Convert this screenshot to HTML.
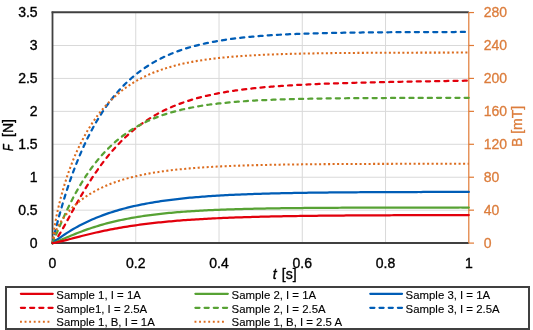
<!DOCTYPE html>
<html><head><meta charset="utf-8"><style>
html,body{margin:0;padding:0;background:#fff;}
body{width:533px;height:330px;overflow:hidden;font-family:"Liberation Sans",sans-serif;}
svg{display:block;will-change:transform;}
</style></head><body>
<svg width="533" height="330" viewBox="0 0 533 330">
<rect width="533" height="330" fill="#fff"/>
<line x1="52.5" x2="468.8" y1="210.16" y2="210.16" stroke="#d9d9d9" stroke-width="1"/>
<line x1="52.5" x2="468.8" y1="177.23" y2="177.23" stroke="#d9d9d9" stroke-width="1"/>
<line x1="52.5" x2="468.8" y1="144.29" y2="144.29" stroke="#d9d9d9" stroke-width="1"/>
<line x1="52.5" x2="468.8" y1="111.36" y2="111.36" stroke="#d9d9d9" stroke-width="1"/>
<line x1="52.5" x2="468.8" y1="78.42" y2="78.42" stroke="#d9d9d9" stroke-width="1"/>
<line x1="52.5" x2="468.8" y1="45.49" y2="45.49" stroke="#d9d9d9" stroke-width="1"/>
<line x1="135.76" x2="135.76" y1="12.55" y2="243.10" stroke="#d9d9d9" stroke-width="1"/>
<line x1="219.02" x2="219.02" y1="12.55" y2="243.10" stroke="#d9d9d9" stroke-width="1"/>
<line x1="302.28" x2="302.28" y1="12.55" y2="243.10" stroke="#d9d9d9" stroke-width="1"/>
<line x1="385.54" x2="385.54" y1="12.55" y2="243.10" stroke="#d9d9d9" stroke-width="1"/>
<line x1="52.5" x2="52.5" y1="11.55" y2="244.10" stroke="#404040" stroke-width="1.8"/>
<line x1="51.6" x2="468.8" y1="12.3" y2="12.3" stroke="#404040" stroke-width="2"/>
<line x1="51.6" x2="468.8" y1="243" y2="243" stroke="#404040" stroke-width="2"/>
<line x1="468.8" x2="468.8" y1="12.55" y2="243.10" stroke="#e07a35" stroke-width="1.2"/>
<line x1="468.8" x2="474" y1="243.10" y2="243.10" stroke="#e07a35" stroke-width="1.2"/>
<line x1="468.8" x2="474" y1="210.16" y2="210.16" stroke="#e07a35" stroke-width="1.2"/>
<line x1="468.8" x2="474" y1="177.23" y2="177.23" stroke="#e07a35" stroke-width="1.2"/>
<line x1="468.8" x2="474" y1="144.29" y2="144.29" stroke="#e07a35" stroke-width="1.2"/>
<line x1="468.8" x2="474" y1="111.36" y2="111.36" stroke="#e07a35" stroke-width="1.2"/>
<line x1="468.8" x2="474" y1="78.42" y2="78.42" stroke="#e07a35" stroke-width="1.2"/>
<line x1="468.8" x2="474" y1="45.49" y2="45.49" stroke="#e07a35" stroke-width="1.2"/>
<line x1="468.8" x2="474" y1="12.55" y2="12.55" stroke="#e07a35" stroke-width="1.2"/>
<path d="M52.50,243.10 L54.58,233.87 L56.66,225.48 L58.74,217.57 L60.83,210.06 L62.91,202.91 L64.99,196.08 L67.07,189.55 L69.15,183.31 L71.23,177.33 L73.31,171.60 L75.40,166.11 L77.48,160.84 L79.56,155.79 L81.64,150.95 L83.72,146.30 L85.80,141.84 L87.89,137.55 L89.97,133.44 L92.05,129.49 L94.13,125.70 L96.21,122.06 L98.29,118.56 L100.37,115.20 L102.46,111.97 L104.54,108.87 L106.62,105.89 L108.70,103.03 L110.78,100.28 L112.86,97.64 L114.94,95.10 L117.03,92.66 L119.11,90.31 L121.19,88.06 L123.27,85.89 L125.35,83.81 L127.43,81.80 L129.52,79.88 L131.60,78.03 L133.68,76.25 L135.76,74.55 L137.84,72.90 L139.92,71.32 L142.00,69.81 L144.09,68.35 L146.17,66.94 L148.25,65.60 L150.33,64.30 L152.41,63.05 L154.49,61.85 L156.57,60.70 L158.66,59.59 L160.74,58.53 L162.82,57.51 L164.90,56.52 L166.98,55.58 L169.06,54.67 L171.15,53.79 L173.23,52.95 L175.31,52.14 L177.39,51.36 L179.47,50.61 L181.55,49.90 L183.63,49.20 L185.72,48.54 L187.80,47.90 L189.88,47.29 L191.96,46.69 L194.04,46.13 L196.12,45.58 L198.20,45.05 L200.29,44.55 L202.37,44.06 L204.45,43.60 L206.53,43.15 L208.61,42.72 L210.69,42.30 L212.78,41.90 L214.86,41.52 L216.94,41.15 L219.02,40.79 L221.10,40.45 L223.18,40.12 L225.26,39.81 L227.35,39.50 L229.43,39.21 L231.51,38.93 L233.59,38.66 L235.67,38.40 L237.75,38.15 L239.84,37.91 L241.92,37.68 L244.00,37.46 L246.08,37.24 L248.16,37.04 L250.24,36.84 L252.32,36.65 L254.41,36.47 L256.49,36.29 L258.57,36.12 L260.65,35.96 L262.73,35.81 L264.81,35.66 L266.89,35.51 L268.98,35.37 L271.06,35.24 L273.14,35.11 L275.22,34.99 L277.30,34.87 L279.38,34.75 L281.47,34.64 L283.55,34.54 L285.63,34.44 L287.71,34.34 L289.79,34.24 L291.87,34.15 L293.95,34.07 L296.04,33.98 L298.12,33.90 L300.20,33.83 L302.28,33.75 L304.36,33.68 L306.44,33.61 L308.52,33.55 L310.61,33.48 L312.69,33.42 L314.77,33.36 L316.85,33.31 L318.93,33.25 L321.01,33.20 L323.10,33.15 L325.18,33.10 L327.26,33.05 L329.34,33.01 L331.42,32.97 L333.50,32.93 L335.58,32.89 L337.67,32.85 L339.75,32.81 L341.83,32.78 L343.91,32.74 L345.99,32.71 L348.07,32.68 L350.15,32.65 L352.24,32.62 L354.32,32.59 L356.40,32.56 L358.48,32.54 L360.56,32.51 L362.64,32.49 L364.73,32.47 L366.81,32.44 L368.89,32.42 L370.97,32.40 L373.05,32.38 L375.13,32.36 L377.21,32.34 L379.30,32.33 L381.38,32.31 L383.46,32.29 L385.54,32.28 L387.62,32.26 L389.70,32.25 L391.78,32.24 L393.87,32.22 L395.95,32.21 L398.03,32.20 L400.11,32.19 L402.19,32.17 L404.27,32.16 L406.36,32.15 L408.44,32.14 L410.52,32.13 L412.60,32.12 L414.68,32.11 L416.76,32.11 L418.84,32.10 L420.93,32.09 L423.01,32.08 L425.09,32.07 L427.17,32.07 L429.25,32.06 L431.33,32.05 L433.41,32.05 L435.50,32.04 L437.58,32.04 L439.66,32.03 L441.74,32.02 L443.82,32.02 L445.90,32.01 L447.99,32.01 L450.07,32.00 L452.15,32.00 L454.23,32.00 L456.31,31.99 L458.39,31.99 L460.47,31.98 L462.56,31.98 L464.64,31.98 L466.72,31.97 L468.80,31.97" stroke="#005db6" stroke-width="2.25" fill="none" stroke-linecap="round" stroke-dasharray="4.1 5.1"/>
<path d="M52.50,243.10 L54.58,226.43 L56.66,215.33 L58.74,205.92 L60.83,197.56 L62.91,189.97 L64.99,183.00 L67.07,176.55 L69.15,170.54 L71.23,164.92 L73.31,159.64 L75.40,154.67 L77.48,149.99 L79.56,145.56 L81.64,141.37 L83.72,137.41 L85.80,133.64 L87.89,130.06 L89.97,126.67 L92.05,123.43 L94.13,120.36 L96.21,117.43 L98.29,114.64 L100.37,111.97 L102.46,109.44 L104.54,107.01 L106.62,104.70 L108.70,102.49 L110.78,100.39 L112.86,98.37 L114.94,96.45 L117.03,94.61 L119.11,92.85 L121.19,91.17 L123.27,89.56 L125.35,88.02 L127.43,86.54 L129.52,85.13 L131.60,83.79 L133.68,82.49 L135.76,81.26 L137.84,80.07 L139.92,78.94 L142.00,77.85 L144.09,76.81 L146.17,75.82 L148.25,74.86 L150.33,73.95 L152.41,73.07 L154.49,72.23 L156.57,71.43 L158.66,70.65 L160.74,69.91 L162.82,69.21 L164.90,68.53 L166.98,67.88 L169.06,67.25 L171.15,66.65 L173.23,66.08 L175.31,65.53 L177.39,65.00 L179.47,64.49 L181.55,64.01 L183.63,63.54 L185.72,63.10 L187.80,62.67 L189.88,62.26 L191.96,61.87 L194.04,61.49 L196.12,61.13 L198.20,60.78 L200.29,60.44 L202.37,60.12 L204.45,59.82 L206.53,59.52 L208.61,59.24 L210.69,58.97 L212.78,58.71 L214.86,58.46 L216.94,58.22 L219.02,57.99 L221.10,57.77 L223.18,57.56 L225.26,57.36 L227.35,57.16 L229.43,56.98 L231.51,56.80 L233.59,56.63 L235.67,56.46 L237.75,56.30 L239.84,56.15 L241.92,56.01 L244.00,55.87 L246.08,55.73 L248.16,55.60 L250.24,55.48 L252.32,55.36 L254.41,55.25 L256.49,55.14 L258.57,55.03 L260.65,54.93 L262.73,54.84 L264.81,54.74 L266.89,54.66 L268.98,54.57 L271.06,54.49 L273.14,54.41 L275.22,54.34 L277.30,54.26 L279.38,54.19 L281.47,54.13 L283.55,54.06 L285.63,54.00 L287.71,53.94 L289.79,53.89 L291.87,53.83 L293.95,53.78 L296.04,53.73 L298.12,53.68 L300.20,53.64 L302.28,53.59 L304.36,53.55 L306.44,53.51 L308.52,53.47 L310.61,53.43 L312.69,53.40 L314.77,53.36 L316.85,53.33 L318.93,53.30 L321.01,53.27 L323.10,53.24 L325.18,53.21 L327.26,53.18 L329.34,53.16 L331.42,53.13 L333.50,53.11 L335.58,53.08 L337.67,53.06 L339.75,53.04 L341.83,53.02 L343.91,53.00 L345.99,52.98 L348.07,52.97 L350.15,52.95 L352.24,52.93 L354.32,52.92 L356.40,52.90 L358.48,52.89 L360.56,52.87 L362.64,52.86 L364.73,52.85 L366.81,52.83 L368.89,52.82 L370.97,52.81 L373.05,52.80 L375.13,52.79 L377.21,52.78 L379.30,52.77 L381.38,52.76 L383.46,52.75 L385.54,52.74 L387.62,52.73 L389.70,52.73 L391.78,52.72 L393.87,52.71 L395.95,52.70 L398.03,52.70 L400.11,52.69 L402.19,52.69 L404.27,52.68 L406.36,52.67 L408.44,52.67 L410.52,52.66 L412.60,52.66 L414.68,52.65 L416.76,52.65 L418.84,52.64 L420.93,52.64 L423.01,52.64 L425.09,52.63 L427.17,52.63 L429.25,52.62 L431.33,52.62 L433.41,52.62 L435.50,52.61 L437.58,52.61 L439.66,52.61 L441.74,52.61 L443.82,52.60 L445.90,52.60 L447.99,52.60 L450.07,52.60 L452.15,52.59 L454.23,52.59 L456.31,52.59 L458.39,52.59 L460.47,52.58 L462.56,52.58 L464.64,52.58 L466.72,52.58 L468.80,52.58" stroke="#dc6c1e" stroke-width="2.05" fill="none" stroke-dasharray="2.05 2.45"/>
<path d="M52.50,243.10 L54.58,241.31 L56.66,238.59 L58.74,235.44 L60.83,232.01 L62.91,228.42 L64.99,224.72 L67.07,220.96 L69.15,217.17 L71.23,213.37 L73.31,209.59 L75.40,205.84 L77.48,202.13 L79.56,198.47 L81.64,194.88 L83.72,191.35 L85.80,187.89 L87.89,184.51 L89.97,181.21 L92.05,177.98 L94.13,174.84 L96.21,171.78 L98.29,168.80 L100.37,165.90 L102.46,163.09 L104.54,160.36 L106.62,157.70 L108.70,155.13 L110.78,152.64 L112.86,150.22 L114.94,147.88 L117.03,145.61 L119.11,143.41 L121.19,141.29 L123.27,139.24 L125.35,137.25 L127.43,135.33 L129.52,133.47 L131.60,131.67 L133.68,129.94 L135.76,128.26 L137.84,126.64 L139.92,125.08 L142.00,123.57 L144.09,122.11 L146.17,120.70 L148.25,119.34 L150.33,118.03 L152.41,116.77 L154.49,115.55 L156.57,114.37 L158.66,113.23 L160.74,112.13 L162.82,111.08 L164.90,110.06 L166.98,109.07 L169.06,108.12 L171.15,107.21 L173.23,106.32 L175.31,105.47 L177.39,104.65 L179.47,103.86 L181.55,103.10 L183.63,102.36 L185.72,101.65 L187.80,100.97 L189.88,100.31 L191.96,99.67 L194.04,99.06 L196.12,98.46 L198.20,97.89 L200.29,97.34 L202.37,96.81 L204.45,96.30 L206.53,95.81 L208.61,95.33 L210.69,94.87 L212.78,94.43 L214.86,94.00 L216.94,93.59 L219.02,93.19 L221.10,92.81 L223.18,92.44 L225.26,92.08 L227.35,91.73 L229.43,91.40 L231.51,91.08 L233.59,90.77 L235.67,90.47 L237.75,90.18 L239.84,89.90 L241.92,89.63 L244.00,89.37 L246.08,89.12 L248.16,88.88 L250.24,88.64 L252.32,88.42 L254.41,88.20 L256.49,87.98 L258.57,87.78 L260.65,87.58 L262.73,87.39 L264.81,87.20 L266.89,87.03 L268.98,86.85 L271.06,86.68 L273.14,86.52 L275.22,86.36 L277.30,86.21 L279.38,86.06 L281.47,85.92 L283.55,85.78 L285.63,85.65 L287.71,85.52 L289.79,85.39 L291.87,85.27 L293.95,85.15 L296.04,85.04 L298.12,84.92 L300.20,84.82 L302.28,84.71 L304.36,84.61 L306.44,84.51 L308.52,84.41 L310.61,84.32 L312.69,84.23 L314.77,84.14 L316.85,84.05 L318.93,83.97 L321.01,83.88 L323.10,83.80 L325.18,83.73 L327.26,83.65 L329.34,83.58 L331.42,83.50 L333.50,83.43 L335.58,83.36 L337.67,83.30 L339.75,83.23 L341.83,83.17 L343.91,83.10 L345.99,83.04 L348.07,82.98 L350.15,82.92 L352.24,82.87 L354.32,82.81 L356.40,82.75 L358.48,82.70 L360.56,82.65 L362.64,82.59 L364.73,82.54 L366.81,82.49 L368.89,82.44 L370.97,82.39 L373.05,82.35 L375.13,82.30 L377.21,82.25 L379.30,82.21 L381.38,82.16 L383.46,82.12 L385.54,82.08 L387.62,82.03 L389.70,81.99 L391.78,81.95 L393.87,81.91 L395.95,81.87 L398.03,81.83 L400.11,81.79 L402.19,81.75 L404.27,81.71 L406.36,81.67 L408.44,81.64 L410.52,81.60 L412.60,81.56 L414.68,81.53 L416.76,81.49 L418.84,81.45 L420.93,81.42 L423.01,81.38 L425.09,81.35 L427.17,81.32 L429.25,81.28 L431.33,81.25 L433.41,81.21 L435.50,81.18 L437.58,81.15 L439.66,81.11 L441.74,81.08 L443.82,81.05 L445.90,81.02 L447.99,80.99 L450.07,80.95 L452.15,80.92 L454.23,80.89 L456.31,80.86 L458.39,80.83 L460.47,80.80 L462.56,80.77 L464.64,80.74 L466.72,80.71 L468.80,80.68" stroke="#e2000c" stroke-width="2.25" fill="none" stroke-linecap="round" stroke-dasharray="4.1 5.1"/>
<path d="M52.50,243.10 L54.58,238.39 L56.66,233.43 L58.74,228.50 L60.83,223.66 L62.91,218.95 L64.99,214.36 L67.07,209.92 L69.15,205.62 L71.23,201.46 L73.31,197.45 L75.40,193.57 L77.48,189.84 L79.56,186.24 L81.64,182.77 L83.72,179.43 L85.80,176.21 L87.89,173.12 L89.97,170.14 L92.05,167.28 L94.13,164.52 L96.21,161.87 L98.29,159.33 L100.37,156.88 L102.46,154.52 L104.54,152.26 L106.62,150.09 L108.70,148.00 L110.78,145.99 L112.86,144.07 L114.94,142.21 L117.03,140.43 L119.11,138.72 L121.19,137.08 L123.27,135.51 L125.35,133.99 L127.43,132.54 L129.52,131.14 L131.60,129.80 L133.68,128.52 L135.76,127.28 L137.84,126.09 L139.92,124.95 L142.00,123.86 L144.09,122.81 L146.17,121.80 L148.25,120.83 L150.33,119.91 L152.41,119.01 L154.49,118.16 L156.57,117.34 L158.66,116.55 L160.74,115.79 L162.82,115.06 L164.90,114.37 L166.98,113.70 L169.06,113.06 L171.15,112.44 L173.23,111.85 L175.31,111.28 L177.39,110.74 L179.47,110.21 L181.55,109.71 L183.63,109.23 L185.72,108.77 L187.80,108.32 L189.88,107.90 L191.96,107.49 L194.04,107.10 L196.12,106.72 L198.20,106.36 L200.29,106.01 L202.37,105.68 L204.45,105.36 L206.53,105.05 L208.61,104.76 L210.69,104.48 L212.78,104.21 L214.86,103.95 L216.94,103.70 L219.02,103.46 L221.10,103.23 L223.18,103.01 L225.26,102.80 L227.35,102.60 L229.43,102.40 L231.51,102.22 L233.59,102.04 L235.67,101.87 L237.75,101.70 L239.84,101.54 L241.92,101.39 L244.00,101.25 L246.08,101.11 L248.16,100.97 L250.24,100.84 L252.32,100.72 L254.41,100.60 L256.49,100.49 L258.57,100.38 L260.65,100.27 L262.73,100.17 L264.81,100.08 L266.89,99.99 L268.98,99.90 L271.06,99.81 L273.14,99.73 L275.22,99.65 L277.30,99.58 L279.38,99.50 L281.47,99.43 L283.55,99.37 L285.63,99.30 L287.71,99.24 L289.79,99.19 L291.87,99.13 L293.95,99.07 L296.04,99.02 L298.12,98.97 L300.20,98.93 L302.28,98.88 L304.36,98.84 L306.44,98.79 L308.52,98.75 L310.61,98.71 L312.69,98.68 L314.77,98.64 L316.85,98.61 L318.93,98.57 L321.01,98.54 L323.10,98.51 L325.18,98.48 L327.26,98.46 L329.34,98.43 L331.42,98.40 L333.50,98.38 L335.58,98.36 L337.67,98.33 L339.75,98.31 L341.83,98.29 L343.91,98.27 L345.99,98.25 L348.07,98.23 L350.15,98.22 L352.24,98.20 L354.32,98.18 L356.40,98.17 L358.48,98.15 L360.56,98.14 L362.64,98.12 L364.73,98.11 L366.81,98.10 L368.89,98.09 L370.97,98.07 L373.05,98.06 L375.13,98.05 L377.21,98.04 L379.30,98.03 L381.38,98.02 L383.46,98.01 L385.54,98.00 L387.62,98.00 L389.70,97.99 L391.78,97.98 L393.87,97.97 L395.95,97.97 L398.03,97.96 L400.11,97.95 L402.19,97.95 L404.27,97.94 L406.36,97.93 L408.44,97.93 L410.52,97.92 L412.60,97.92 L414.68,97.91 L416.76,97.91 L418.84,97.90 L420.93,97.90 L423.01,97.90 L425.09,97.89 L427.17,97.89 L429.25,97.88 L431.33,97.88 L433.41,97.88 L435.50,97.87 L437.58,97.87 L439.66,97.87 L441.74,97.86 L443.82,97.86 L445.90,97.86 L447.99,97.86 L450.07,97.85 L452.15,97.85 L454.23,97.85 L456.31,97.85 L458.39,97.85 L460.47,97.84 L462.56,97.84 L464.64,97.84 L466.72,97.84 L468.80,97.84" stroke="#57a234" stroke-width="2.25" fill="none" stroke-linecap="round" stroke-dasharray="4.1 5.1"/>
<path d="M52.50,243.10 L54.58,234.35 L56.66,229.40 L58.74,225.37 L60.83,221.89 L62.91,218.79 L64.99,215.98 L67.07,213.41 L69.15,211.03 L71.23,208.81 L73.31,206.75 L75.40,204.81 L77.48,202.99 L79.56,201.28 L81.64,199.66 L83.72,198.12 L85.80,196.67 L87.89,195.29 L89.97,193.98 L92.05,192.73 L94.13,191.55 L96.21,190.42 L98.29,189.34 L100.37,188.31 L102.46,187.33 L104.54,186.39 L106.62,185.49 L108.70,184.63 L110.78,183.81 L112.86,183.03 L114.94,182.28 L117.03,181.55 L119.11,180.86 L121.19,180.20 L123.27,179.57 L125.35,178.96 L127.43,178.38 L129.52,177.82 L131.60,177.28 L133.68,176.76 L135.76,176.27 L137.84,175.79 L139.92,175.34 L142.00,174.90 L144.09,174.48 L146.17,174.07 L148.25,173.68 L150.33,173.31 L152.41,172.95 L154.49,172.60 L156.57,172.27 L158.66,171.95 L160.74,171.65 L162.82,171.35 L164.90,171.07 L166.98,170.79 L169.06,170.53 L171.15,170.28 L173.23,170.03 L175.31,169.80 L177.39,169.58 L179.47,169.36 L181.55,169.15 L183.63,168.95 L185.72,168.76 L187.80,168.57 L189.88,168.39 L191.96,168.22 L194.04,168.06 L196.12,167.90 L198.20,167.74 L200.29,167.59 L202.37,167.45 L204.45,167.31 L206.53,167.18 L208.61,167.06 L210.69,166.93 L212.78,166.82 L214.86,166.70 L216.94,166.59 L219.02,166.49 L221.10,166.39 L223.18,166.29 L225.26,166.20 L227.35,166.10 L229.43,166.02 L231.51,165.93 L233.59,165.85 L235.67,165.77 L237.75,165.70 L239.84,165.63 L241.92,165.56 L244.00,165.49 L246.08,165.43 L248.16,165.36 L250.24,165.30 L252.32,165.25 L254.41,165.19 L256.49,165.14 L258.57,165.09 L260.65,165.04 L262.73,164.99 L264.81,164.94 L266.89,164.90 L268.98,164.85 L271.06,164.81 L273.14,164.77 L275.22,164.73 L277.30,164.70 L279.38,164.66 L281.47,164.63 L283.55,164.60 L285.63,164.56 L287.71,164.53 L289.79,164.50 L291.87,164.47 L293.95,164.45 L296.04,164.42 L298.12,164.40 L300.20,164.37 L302.28,164.35 L304.36,164.32 L306.44,164.30 L308.52,164.28 L310.61,164.26 L312.69,164.24 L314.77,164.22 L316.85,164.20 L318.93,164.19 L321.01,164.17 L323.10,164.15 L325.18,164.14 L327.26,164.12 L329.34,164.11 L331.42,164.09 L333.50,164.08 L335.58,164.07 L337.67,164.05 L339.75,164.04 L341.83,164.03 L343.91,164.02 L345.99,164.01 L348.07,164.00 L350.15,163.99 L352.24,163.98 L354.32,163.97 L356.40,163.96 L358.48,163.95 L360.56,163.94 L362.64,163.93 L364.73,163.93 L366.81,163.92 L368.89,163.91 L370.97,163.91 L373.05,163.90 L375.13,163.89 L377.21,163.89 L379.30,163.88 L381.38,163.87 L383.46,163.87 L385.54,163.86 L387.62,163.86 L389.70,163.85 L391.78,163.85 L393.87,163.84 L395.95,163.84 L398.03,163.83 L400.11,163.83 L402.19,163.83 L404.27,163.82 L406.36,163.82 L408.44,163.82 L410.52,163.81 L412.60,163.81 L414.68,163.81 L416.76,163.80 L418.84,163.80 L420.93,163.80 L423.01,163.79 L425.09,163.79 L427.17,163.79 L429.25,163.79 L431.33,163.78 L433.41,163.78 L435.50,163.78 L437.58,163.78 L439.66,163.78 L441.74,163.77 L443.82,163.77 L445.90,163.77 L447.99,163.77 L450.07,163.77 L452.15,163.76 L454.23,163.76 L456.31,163.76 L458.39,163.76 L460.47,163.76 L462.56,163.76 L464.64,163.76 L466.72,163.75 L468.80,163.75" stroke="#dc6c1e" stroke-width="2.05" fill="none" stroke-dasharray="2.05 2.45"/>
<path d="M52.50,243.10 L54.58,241.56 L56.66,240.02 L58.74,238.52 L60.83,237.05 L62.91,235.62 L64.99,234.23 L67.07,232.88 L69.15,231.58 L71.23,230.31 L73.31,229.08 L75.40,227.89 L77.48,226.73 L79.56,225.61 L81.64,224.53 L83.72,223.48 L85.80,222.46 L87.89,221.47 L89.97,220.52 L92.05,219.59 L94.13,218.70 L96.21,217.83 L98.29,216.99 L100.37,216.18 L102.46,215.40 L104.54,214.63 L106.62,213.90 L108.70,213.18 L110.78,212.49 L112.86,211.83 L114.94,211.18 L117.03,210.55 L119.11,209.95 L121.19,209.36 L123.27,208.79 L125.35,208.24 L127.43,207.71 L129.52,207.20 L131.60,206.70 L133.68,206.22 L135.76,205.75 L137.84,205.30 L139.92,204.86 L142.00,204.44 L144.09,204.03 L146.17,203.64 L148.25,203.25 L150.33,202.88 L152.41,202.53 L154.49,202.18 L156.57,201.84 L158.66,201.52 L160.74,201.21 L162.82,200.90 L164.90,200.61 L166.98,200.32 L169.06,200.05 L171.15,199.78 L173.23,199.52 L175.31,199.27 L177.39,199.03 L179.47,198.80 L181.55,198.57 L183.63,198.35 L185.72,198.14 L187.80,197.94 L189.88,197.74 L191.96,197.55 L194.04,197.36 L196.12,197.18 L198.20,197.01 L200.29,196.84 L202.37,196.68 L204.45,196.52 L206.53,196.37 L208.61,196.22 L210.69,196.08 L212.78,195.94 L214.86,195.81 L216.94,195.68 L219.02,195.56 L221.10,195.44 L223.18,195.32 L225.26,195.21 L227.35,195.10 L229.43,194.99 L231.51,194.89 L233.59,194.79 L235.67,194.69 L237.75,194.60 L239.84,194.51 L241.92,194.43 L244.00,194.34 L246.08,194.26 L248.16,194.18 L250.24,194.11 L252.32,194.03 L254.41,193.96 L256.49,193.89 L258.57,193.83 L260.65,193.76 L262.73,193.70 L264.81,193.64 L266.89,193.58 L268.98,193.53 L271.06,193.47 L273.14,193.42 L275.22,193.37 L277.30,193.32 L279.38,193.27 L281.47,193.22 L283.55,193.18 L285.63,193.14 L287.71,193.09 L289.79,193.05 L291.87,193.01 L293.95,192.98 L296.04,192.94 L298.12,192.90 L300.20,192.87 L302.28,192.84 L304.36,192.80 L306.44,192.77 L308.52,192.74 L310.61,192.71 L312.69,192.69 L314.77,192.66 L316.85,192.63 L318.93,192.61 L321.01,192.58 L323.10,192.56 L325.18,192.54 L327.26,192.51 L329.34,192.49 L331.42,192.47 L333.50,192.45 L335.58,192.43 L337.67,192.41 L339.75,192.39 L341.83,192.38 L343.91,192.36 L345.99,192.34 L348.07,192.33 L350.15,192.31 L352.24,192.30 L354.32,192.28 L356.40,192.27 L358.48,192.25 L360.56,192.24 L362.64,192.23 L364.73,192.22 L366.81,192.20 L368.89,192.19 L370.97,192.18 L373.05,192.17 L375.13,192.16 L377.21,192.15 L379.30,192.14 L381.38,192.13 L383.46,192.12 L385.54,192.11 L387.62,192.10 L389.70,192.10 L391.78,192.09 L393.87,192.08 L395.95,192.07 L398.03,192.07 L400.11,192.06 L402.19,192.05 L404.27,192.04 L406.36,192.04 L408.44,192.03 L410.52,192.03 L412.60,192.02 L414.68,192.01 L416.76,192.01 L418.84,192.00 L420.93,192.00 L423.01,191.99 L425.09,191.99 L427.17,191.99 L429.25,191.98 L431.33,191.98 L433.41,191.97 L435.50,191.97 L437.58,191.96 L439.66,191.96 L441.74,191.96 L443.82,191.95 L445.90,191.95 L447.99,191.95 L450.07,191.94 L452.15,191.94 L454.23,191.94 L456.31,191.94 L458.39,191.93 L460.47,191.93 L462.56,191.93 L464.64,191.92 L466.72,191.92 L468.80,191.92" stroke="#005db6" stroke-width="2.25" fill="none" stroke-linecap="round"/>
<path d="M52.50,243.10 L54.58,242.49 L56.66,241.70 L58.74,240.85 L60.83,239.98 L62.91,239.09 L64.99,238.19 L67.07,237.30 L69.15,236.42 L71.23,235.55 L73.31,234.69 L75.40,233.85 L77.48,233.02 L79.56,232.22 L81.64,231.43 L83.72,230.66 L85.80,229.91 L87.89,229.17 L89.97,228.46 L92.05,227.77 L94.13,227.10 L96.21,226.45 L98.29,225.81 L100.37,225.20 L102.46,224.60 L104.54,224.02 L106.62,223.46 L108.70,222.92 L110.78,222.39 L112.86,221.88 L114.94,221.39 L117.03,220.91 L119.11,220.45 L121.19,220.00 L123.27,219.57 L125.35,219.15 L127.43,218.74 L129.52,218.35 L131.60,217.97 L133.68,217.61 L135.76,217.25 L137.84,216.91 L139.92,216.58 L142.00,216.26 L144.09,215.95 L146.17,215.66 L148.25,215.37 L150.33,215.09 L152.41,214.82 L154.49,214.56 L156.57,214.31 L158.66,214.07 L160.74,213.84 L162.82,213.62 L164.90,213.40 L166.98,213.19 L169.06,212.99 L171.15,212.79 L173.23,212.60 L175.31,212.42 L177.39,212.24 L179.47,212.07 L181.55,211.91 L183.63,211.75 L185.72,211.60 L187.80,211.45 L189.88,211.31 L191.96,211.18 L194.04,211.04 L196.12,210.92 L198.20,210.79 L200.29,210.68 L202.37,210.56 L204.45,210.45 L206.53,210.34 L208.61,210.24 L210.69,210.14 L212.78,210.05 L214.86,209.96 L216.94,209.87 L219.02,209.78 L221.10,209.70 L223.18,209.62 L225.26,209.54 L227.35,209.47 L229.43,209.40 L231.51,209.33 L233.59,209.26 L235.67,209.20 L237.75,209.14 L239.84,209.08 L241.92,209.02 L244.00,208.96 L246.08,208.91 L248.16,208.86 L250.24,208.81 L252.32,208.76 L254.41,208.71 L256.49,208.67 L258.57,208.63 L260.65,208.59 L262.73,208.55 L264.81,208.51 L266.89,208.47 L268.98,208.43 L271.06,208.40 L273.14,208.37 L275.22,208.33 L277.30,208.30 L279.38,208.27 L281.47,208.24 L283.55,208.22 L285.63,208.19 L287.71,208.16 L289.79,208.14 L291.87,208.11 L293.95,208.09 L296.04,208.07 L298.12,208.05 L300.20,208.03 L302.28,208.01 L304.36,207.99 L306.44,207.97 L308.52,207.95 L310.61,207.93 L312.69,207.92 L314.77,207.90 L316.85,207.89 L318.93,207.87 L321.01,207.86 L323.10,207.84 L325.18,207.83 L327.26,207.82 L329.34,207.80 L331.42,207.79 L333.50,207.78 L335.58,207.77 L337.67,207.76 L339.75,207.75 L341.83,207.74 L343.91,207.73 L345.99,207.72 L348.07,207.71 L350.15,207.70 L352.24,207.69 L354.32,207.69 L356.40,207.68 L358.48,207.67 L360.56,207.66 L362.64,207.66 L364.73,207.65 L366.81,207.64 L368.89,207.64 L370.97,207.63 L373.05,207.63 L375.13,207.62 L377.21,207.61 L379.30,207.61 L381.38,207.60 L383.46,207.60 L385.54,207.60 L387.62,207.59 L389.70,207.59 L391.78,207.58 L393.87,207.58 L395.95,207.57 L398.03,207.57 L400.11,207.57 L402.19,207.56 L404.27,207.56 L406.36,207.56 L408.44,207.55 L410.52,207.55 L412.60,207.55 L414.68,207.55 L416.76,207.54 L418.84,207.54 L420.93,207.54 L423.01,207.54 L425.09,207.53 L427.17,207.53 L429.25,207.53 L431.33,207.53 L433.41,207.52 L435.50,207.52 L437.58,207.52 L439.66,207.52 L441.74,207.52 L443.82,207.52 L445.90,207.51 L447.99,207.51 L450.07,207.51 L452.15,207.51 L454.23,207.51 L456.31,207.51 L458.39,207.51 L460.47,207.50 L462.56,207.50 L464.64,207.50 L466.72,207.50 L468.80,207.50" stroke="#57a234" stroke-width="2.25" fill="none" stroke-linecap="round"/>
<path d="M52.50,243.10 L54.58,242.81 L56.66,242.40 L58.74,241.93 L60.83,241.43 L62.91,240.91 L64.99,240.37 L67.07,239.83 L69.15,239.28 L71.23,238.73 L73.31,238.18 L75.40,237.63 L77.48,237.09 L79.56,236.55 L81.64,236.02 L83.72,235.49 L85.80,234.98 L87.89,234.47 L89.97,233.97 L92.05,233.47 L94.13,232.99 L96.21,232.52 L98.29,232.05 L100.37,231.60 L102.46,231.15 L104.54,230.72 L106.62,230.29 L108.70,229.88 L110.78,229.47 L112.86,229.07 L114.94,228.69 L117.03,228.31 L119.11,227.94 L121.19,227.58 L123.27,227.23 L125.35,226.88 L127.43,226.55 L129.52,226.23 L131.60,225.91 L133.68,225.60 L135.76,225.30 L137.84,225.01 L139.92,224.72 L142.00,224.44 L144.09,224.17 L146.17,223.91 L148.25,223.66 L150.33,223.41 L152.41,223.17 L154.49,222.93 L156.57,222.70 L158.66,222.48 L160.74,222.26 L162.82,222.05 L164.90,221.85 L166.98,221.65 L169.06,221.45 L171.15,221.27 L173.23,221.08 L175.31,220.91 L177.39,220.73 L179.47,220.57 L181.55,220.40 L183.63,220.24 L185.72,220.09 L187.80,219.94 L189.88,219.80 L191.96,219.66 L194.04,219.52 L196.12,219.39 L198.20,219.26 L200.29,219.13 L202.37,219.01 L204.45,218.89 L206.53,218.78 L208.61,218.66 L210.69,218.56 L212.78,218.45 L214.86,218.35 L216.94,218.25 L219.02,218.15 L221.10,218.06 L223.18,217.97 L225.26,217.88 L227.35,217.80 L229.43,217.71 L231.51,217.63 L233.59,217.55 L235.67,217.48 L237.75,217.40 L239.84,217.33 L241.92,217.26 L244.00,217.20 L246.08,217.13 L248.16,217.07 L250.24,217.01 L252.32,216.95 L254.41,216.89 L256.49,216.83 L258.57,216.78 L260.65,216.72 L262.73,216.67 L264.81,216.62 L266.89,216.57 L268.98,216.53 L271.06,216.48 L273.14,216.44 L275.22,216.39 L277.30,216.35 L279.38,216.31 L281.47,216.27 L283.55,216.23 L285.63,216.20 L287.71,216.16 L289.79,216.13 L291.87,216.09 L293.95,216.06 L296.04,216.03 L298.12,216.00 L300.20,215.97 L302.28,215.94 L304.36,215.91 L306.44,215.88 L308.52,215.86 L310.61,215.83 L312.69,215.81 L314.77,215.78 L316.85,215.76 L318.93,215.73 L321.01,215.71 L323.10,215.69 L325.18,215.67 L327.26,215.65 L329.34,215.63 L331.42,215.61 L333.50,215.59 L335.58,215.58 L337.67,215.56 L339.75,215.54 L341.83,215.52 L343.91,215.51 L345.99,215.49 L348.07,215.48 L350.15,215.46 L352.24,215.45 L354.32,215.44 L356.40,215.42 L358.48,215.41 L360.56,215.40 L362.64,215.39 L364.73,215.37 L366.81,215.36 L368.89,215.35 L370.97,215.34 L373.05,215.33 L375.13,215.32 L377.21,215.31 L379.30,215.30 L381.38,215.29 L383.46,215.28 L385.54,215.28 L387.62,215.27 L389.70,215.26 L391.78,215.25 L393.87,215.24 L395.95,215.24 L398.03,215.23 L400.11,215.22 L402.19,215.21 L404.27,215.21 L406.36,215.20 L408.44,215.20 L410.52,215.19 L412.60,215.18 L414.68,215.18 L416.76,215.17 L418.84,215.17 L420.93,215.16 L423.01,215.16 L425.09,215.15 L427.17,215.15 L429.25,215.14 L431.33,215.14 L433.41,215.13 L435.50,215.13 L437.58,215.13 L439.66,215.12 L441.74,215.12 L443.82,215.11 L445.90,215.11 L447.99,215.11 L450.07,215.10 L452.15,215.10 L454.23,215.10 L456.31,215.09 L458.39,215.09 L460.47,215.09 L462.56,215.09 L464.64,215.08 L466.72,215.08 L468.80,215.08" stroke="#e2000c" stroke-width="2.25" fill="none" stroke-linecap="round"/>
<text x="37.6" y="247.70" text-anchor="end" font-size="14" font-family="Liberation Sans, sans-serif" fill="#000" stroke="#000" stroke-width="0.35">0</text>
<text x="37.6" y="214.76" text-anchor="end" font-size="14" font-family="Liberation Sans, sans-serif" fill="#000" stroke="#000" stroke-width="0.35">0.5</text>
<text x="37.6" y="181.83" text-anchor="end" font-size="14" font-family="Liberation Sans, sans-serif" fill="#000" stroke="#000" stroke-width="0.35">1</text>
<text x="37.6" y="148.89" text-anchor="end" font-size="14" font-family="Liberation Sans, sans-serif" fill="#000" stroke="#000" stroke-width="0.35">1.5</text>
<text x="37.6" y="115.96" text-anchor="end" font-size="14" font-family="Liberation Sans, sans-serif" fill="#000" stroke="#000" stroke-width="0.35">2</text>
<text x="37.6" y="83.02" text-anchor="end" font-size="14" font-family="Liberation Sans, sans-serif" fill="#000" stroke="#000" stroke-width="0.35">2.5</text>
<text x="37.6" y="50.09" text-anchor="end" font-size="14" font-family="Liberation Sans, sans-serif" fill="#000" stroke="#000" stroke-width="0.35">3</text>
<text x="37.6" y="17.15" text-anchor="end" font-size="14" font-family="Liberation Sans, sans-serif" fill="#000" stroke="#000" stroke-width="0.35">3.5</text>
<text x="483.8" y="247.70" font-size="14" font-family="Liberation Sans, sans-serif" fill="#dc7d3c" stroke="#dc7d3c" stroke-width="0.3">0</text>
<text x="483.8" y="214.76" font-size="14" font-family="Liberation Sans, sans-serif" fill="#dc7d3c" stroke="#dc7d3c" stroke-width="0.3">40</text>
<text x="483.8" y="181.83" font-size="14" font-family="Liberation Sans, sans-serif" fill="#dc7d3c" stroke="#dc7d3c" stroke-width="0.3">80</text>
<text x="483.8" y="148.89" font-size="14" font-family="Liberation Sans, sans-serif" fill="#dc7d3c" stroke="#dc7d3c" stroke-width="0.3">120</text>
<text x="483.8" y="115.96" font-size="14" font-family="Liberation Sans, sans-serif" fill="#dc7d3c" stroke="#dc7d3c" stroke-width="0.3">160</text>
<text x="483.8" y="83.02" font-size="14" font-family="Liberation Sans, sans-serif" fill="#dc7d3c" stroke="#dc7d3c" stroke-width="0.3">200</text>
<text x="483.8" y="50.09" font-size="14" font-family="Liberation Sans, sans-serif" fill="#dc7d3c" stroke="#dc7d3c" stroke-width="0.3">240</text>
<text x="483.8" y="17.15" font-size="14" font-family="Liberation Sans, sans-serif" fill="#dc7d3c" stroke="#dc7d3c" stroke-width="0.3">280</text>
<text x="52.50" y="268.4" text-anchor="middle" font-size="14" font-family="Liberation Sans, sans-serif" fill="#000" stroke="#000" stroke-width="0.35">0</text>
<text x="135.76" y="268.4" text-anchor="middle" font-size="14" font-family="Liberation Sans, sans-serif" fill="#000" stroke="#000" stroke-width="0.35">0.2</text>
<text x="219.02" y="268.4" text-anchor="middle" font-size="14" font-family="Liberation Sans, sans-serif" fill="#000" stroke="#000" stroke-width="0.35">0.4</text>
<text x="302.28" y="268.4" text-anchor="middle" font-size="14" font-family="Liberation Sans, sans-serif" fill="#000" stroke="#000" stroke-width="0.35">0.6</text>
<text x="385.54" y="268.4" text-anchor="middle" font-size="14" font-family="Liberation Sans, sans-serif" fill="#000" stroke="#000" stroke-width="0.35">0.8</text>
<text x="468.80" y="268.4" text-anchor="middle" font-size="14" font-family="Liberation Sans, sans-serif" fill="#000" stroke="#000" stroke-width="0.35">1</text>
<text x="272.8" y="278.5" font-size="14" font-family="Liberation Sans, sans-serif" fill="#000" stroke="#000" stroke-width="0.35"><tspan font-style="italic">t</tspan><tspan dx="1.2"> [s]</tspan></text>
<text transform="translate(13.3,150.9) rotate(-90) scale(0.78,1)" x="0" y="0" font-size="14" font-style="italic" font-family="Liberation Sans, sans-serif" fill="#000" stroke="#000" stroke-width="0.35">F</text>
<text transform="translate(13.3,136.9) rotate(-90)" x="0" y="0" font-size="14" font-family="Liberation Sans, sans-serif" fill="#000" stroke="#000" stroke-width="0.35">[N]</text>
<text transform="translate(522,147) rotate(-90)" x="0" y="0" font-size="14" font-family="Liberation Sans, sans-serif" fill="#dc7d3c" stroke="#dc7d3c" stroke-width="0.3">B [mT]</text>
<rect x="6" y="287" width="523" height="42" fill="#fff" stroke="#404040" stroke-width="2"/>
<line x1="20.9" x2="52.699999999999996" y1="293.8" y2="293.8" stroke="#e2000c" stroke-width="2.25" fill="none" stroke-linecap="round"/>
<text x="56.3" y="299.2" font-size="11.4" font-family="Liberation Sans, sans-serif" fill="#000" stroke="#000" stroke-width="0.12">Sample 1, I = 1A</text>
<line x1="20.9" x2="52.699999999999996" y1="307.8" y2="307.8" stroke="#e2000c" stroke-width="2.25" fill="none" stroke-linecap="round" stroke-dasharray="4.1 5.1"/>
<text x="56.3" y="312.7" font-size="11.4" font-family="Liberation Sans, sans-serif" fill="#000" stroke="#000" stroke-width="0.12">Sample1, I = 2.5A</text>
<line x1="20.0" x2="49.38" y1="321.8" y2="321.8" stroke="#dc6c1e" stroke-width="2.05" fill="none" stroke-dasharray="1.9 2.68"/>
<text x="56.3" y="326.2" font-size="11.4" font-family="Liberation Sans, sans-serif" fill="#000" stroke="#000" stroke-width="0.12">Sample 1, B, I = 1A</text>
<line x1="195.39999999999998" x2="227.8" y1="293.8" y2="293.8" stroke="#57a234" stroke-width="2.25" fill="none" stroke-linecap="round"/>
<text x="231.6" y="299.2" font-size="11.4" font-family="Liberation Sans, sans-serif" fill="#000" stroke="#000" stroke-width="0.12">Sample 2, I = 1A</text>
<line x1="195.39999999999998" x2="227.8" y1="307.8" y2="307.8" stroke="#57a234" stroke-width="2.25" fill="none" stroke-linecap="round" stroke-dasharray="4.1 5.1"/>
<text x="231.6" y="312.7" font-size="11.4" font-family="Liberation Sans, sans-serif" fill="#000" stroke="#000" stroke-width="0.12">Sample 2, I = 2.5A</text>
<line x1="194.5" x2="223.88" y1="321.8" y2="321.8" stroke="#dc6c1e" stroke-width="2.05" fill="none" stroke-dasharray="1.9 2.68"/>
<text x="231.6" y="326.2" font-size="11.4" font-family="Liberation Sans, sans-serif" fill="#000" stroke="#000" stroke-width="0.12">Sample 1, B, I = 2.5 A</text>
<line x1="370.3" x2="402.0" y1="293.8" y2="293.8" stroke="#005db6" stroke-width="2.25" fill="none" stroke-linecap="round"/>
<text x="405.6" y="299.2" font-size="11.4" font-family="Liberation Sans, sans-serif" fill="#000" stroke="#000" stroke-width="0.12">Sample 3, I = 1A</text>
<line x1="370.3" x2="402.0" y1="307.8" y2="307.8" stroke="#005db6" stroke-width="2.25" fill="none" stroke-linecap="round" stroke-dasharray="4.1 5.1"/>
<text x="405.6" y="312.7" font-size="11.4" font-family="Liberation Sans, sans-serif" fill="#000" stroke="#000" stroke-width="0.12">Sample 3, I = 2.5A</text>
</svg>
</body></html>
